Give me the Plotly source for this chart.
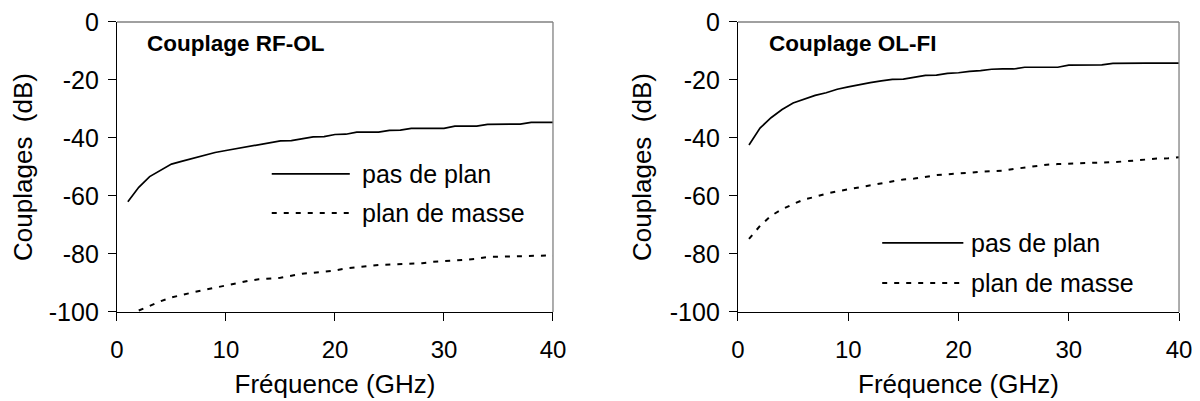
import plotly.graph_objects as go

FONT = "Liberation Sans, Arial, sans-serif"

# Frequency grid (GHz)
freq = list(range(1, 41))

# Couplage RF-OL
rf_ol_pas_de_plan = [
    -62.0, -57.0, -53.3, -51.0, -49.0, -48.0, -47.0, -45.8, -45.0, -44.3,
    -43.6, -42.9, -42.3, -41.5, -41.0, -40.9, -40.3, -39.6, -39.5, -38.8,
    -38.7, -38.0, -38.0, -38.0, -37.4, -37.3, -36.7, -36.7, -36.7, -36.7,
    -35.9, -35.9, -35.9, -35.3, -35.2, -35.2, -35.2, -34.6, -34.6, -34.6,
]
freq_rf_masse = list(range(2, 41))
rf_ol_plan_de_masse = [
    -99.5, -97.8, -96.3, -95.0, -94.0, -93.2, -92.4, -91.6, -90.8,
    -90.0, -89.3, -88.7, -88.4, -88.2, -87.5, -86.8, -86.5, -86.2, -85.7,
    -85.0, -84.5, -84.2, -83.8, -83.6, -83.4, -83.3, -83.2, -82.7, -82.4,
    -82.2, -82.0, -81.7, -81.0, -80.9, -80.8, -80.7, -80.6, -80.6, -80.5,
]

# Couplage OL-FI
ol_fi_pas_de_plan = [
    -42.4, -36.6, -33.0, -30.2, -27.9, -26.6, -25.3, -24.4, -23.2, -22.4,
    -21.6, -20.9, -20.3, -19.8, -19.7, -19.0, -18.4, -18.3, -17.7, -17.5,
    -17.0, -16.8, -16.3, -16.2, -16.2, -15.6, -15.6, -15.6, -15.6, -14.9,
    -14.8, -14.8, -14.8, -14.3, -14.2, -14.2, -14.2, -14.2, -14.2, -14.2,
]
ol_fi_plan_de_masse = [
    -74.8, -70.3, -66.8, -64.6, -62.8, -61.2, -60.3, -59.2, -58.4, -57.7,
    -57.0, -56.4, -55.6, -54.8, -54.3, -54.0, -53.3, -52.8, -52.5, -52.3,
    -52.0, -51.6, -51.4, -51.3, -50.7, -50.2, -49.6, -49.2, -49.0, -48.9,
    -48.8, -48.6, -48.4, -48.3, -48.1, -47.7, -47.3, -47.1, -47.0, -46.6,
]

x_ticks = [0, 10, 20, 30, 40]
y_ticks = [0, -20, -40, -60, -80, -100]
y_tick_labels = ["0", "-20", "-40", "-60", "-80", "-100"]

SOLID = dict(color="black", width=1.7)
DASHED = dict(color="black", width=2, dash="5px,7px")

fig = go.Figure()

fig.add_trace(go.Scatter(x=freq, y=rf_ol_pas_de_plan, mode="lines", line=SOLID,
                         xaxis="x", yaxis="y", showlegend=False))
fig.add_trace(go.Scatter(x=freq_rf_masse, y=rf_ol_plan_de_masse, mode="lines", line=DASHED,
                         xaxis="x", yaxis="y", showlegend=False))
fig.add_trace(go.Scatter(x=freq, y=ol_fi_pas_de_plan, mode="lines", line=SOLID,
                         xaxis="x2", yaxis="y2", showlegend=False))
fig.add_trace(go.Scatter(x=freq, y=ol_fi_plan_de_masse, mode="lines", line=DASHED,
                         xaxis="x2", yaxis="y2", showlegend=False))

xax = dict(range=[0, 40], tickvals=x_ticks, ticks="outside", ticklen=8, tickcolor="black",
           showline=True, linecolor="black", linewidth=1.3, showgrid=False, zeroline=False,
           tickfont=dict(size=24), ticklabelstandoff=8, automargin=False,
           ticklabeloverflow="allow",
           title=dict(text="Fréquence (GHz)", font=dict(size=26), standoff=12))
yax = dict(range=[-100, 0], tickvals=y_ticks, ticktext=y_tick_labels, ticks="outside",
           ticklen=8, tickcolor="black",
           showline=True, linecolor="black", linewidth=1.3, showgrid=False, zeroline=False,
           tickfont=dict(size=25), ticklabelstandoff=4, automargin=False,
           ticklabeloverflow="allow",
           title=dict(text="Couplages  (dB)", font=dict(size=26), standoff=10))

y_dom = [0.2265, 0.9644]
fig.update_layout(
    width=1192, height=393,
    margin=dict(l=0, r=0, t=0, b=0),
    paper_bgcolor="white", plot_bgcolor="white",
    font=dict(family=FONT, color="black"),
    xaxis=dict(xax, domain=[0.0914, 0.4572], anchor="y"),
    yaxis=dict(yax, domain=y_dom, anchor="x"),
    xaxis2=dict(xax, domain=[0.6124, 0.9824], anchor="y2"),
    yaxis2=dict(yax, domain=y_dom, anchor="x2"),
)

# gray top/right frame
for xr, yr in (("x", "y"), ("x2", "y2")):
    fig.add_shape(type="line", xref=f"{xr} domain", yref=f"{yr} domain",
                  x0=0, x1=1, y0=1, y1=1, line=dict(color="#808080", width=1.3))
    fig.add_shape(type="line", xref=f"{xr} domain", yref=f"{yr} domain",
                  x0=1, x1=1, y0=0, y1=1, line=dict(color="#808080", width=1.3))

# panel titles and legend keys
panels = [
    ("x", "y", "Couplage RF-OL", 0.068, (0.355, 0.534), 0.561, (0.476, 0.341)),
    ("x2", "y2", "Couplage OL-FI", 0.070, (0.327, 0.511), 0.528, (0.238, 0.100)),
]
for xr, yr, title, tx, (lx0, lx1), txt_x, (ly_solid, ly_dash) in panels:
    fig.add_annotation(xref=f"{xr} domain", yref=f"{yr} domain", x=tx, y=0.927,
                       text=f"<b>{title}</b>", showarrow=False, xanchor="left", yanchor="middle",
                       xshift=-2, font=dict(size=22.5))
    for ly, style, label in ((ly_solid, SOLID, "pas de plan"), (ly_dash, DASHED, "plan de masse")):
        fig.add_shape(type="line", xref=f"{xr} domain", yref=f"{yr} domain",
                      x0=lx0, x1=lx1, y0=ly, y1=ly, line=style)
        fig.add_annotation(xref=f"{xr} domain", yref=f"{yr} domain", x=txt_x, y=ly,
                           text=label, showarrow=False, xanchor="left", yanchor="middle",
                           xshift=-2, font=dict(size=25))

fig.write_html("out.html")
